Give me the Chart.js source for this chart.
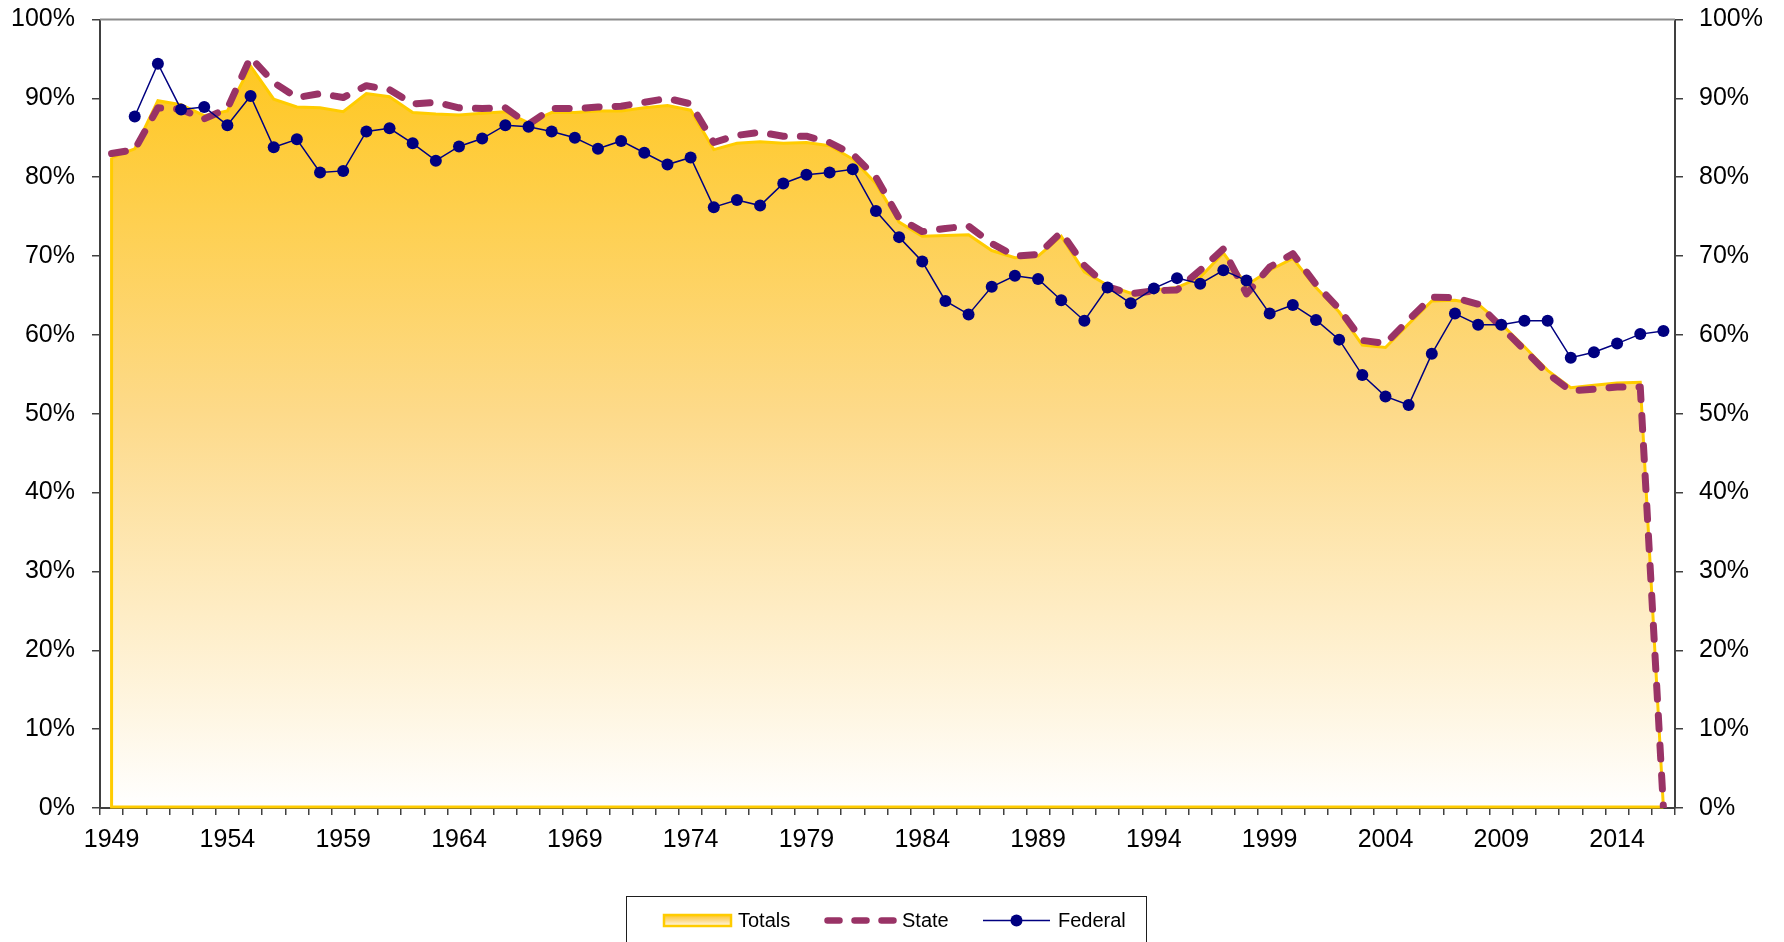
<!DOCTYPE html>
<html>
<head>
<meta charset="utf-8">
<script src="https://cdn.jsdelivr.net/npm/chart.js@4.4.1/dist/chart.umd.min.js"></script>
<style>
    html, body { margin: 0; padding: 0; background: #fff; }
    #wrap { width: 1784px; height: 942px; position: relative; }
</style>
</head>
<body>
<div id="wrap"><canvas id="chart"></canvas></div>
<script>
// Categories (one per year)
const years = [
    1949, 1950, 1951, 1952, 1953, 1954, 1955, 1956, 1957, 1958,
    1959, 1960, 1961, 1962, 1963, 1964, 1965, 1966, 1967, 1968,
    1969, 1970, 1971, 1972, 1973, 1974, 1975, 1976, 1977, 1978,
    1979, 1980, 1981, 1982, 1983, 1984, 1985, 1986, 1987, 1988,
    1989, 1990, 1991, 1992, 1993, 1994, 1995, 1996, 1997, 1998,
    1999, 2000, 2001, 2002, 2003, 2004, 2005, 2006, 2007, 2008,
    2009, 2010, 2011, 2012, 2013, 2014, 2015, 2016,
];

// Series values, in percent
const totals = [
    82.5, 83.6, 89.7, 89.2, 87.8, 88.4, 94.1, 89.9, 88.9, 88.8,
    88.3, 90.6, 90.2, 88.2, 88.0, 87.9, 88.1, 88.3, 86.9, 88.2,
    88.2, 88.4, 88.4, 88.8, 89.1, 88.5, 83.5, 84.3, 84.5, 84.3,
    84.4, 84.0, 82.3, 79.2, 74.3, 72.5, 72.6, 72.7, 70.7, 69.8,
    70.0, 72.5, 68.0, 66.3, 65.3, 65.7, 66.0, 67.3, 70.4, 66.3,
    68.2, 69.7, 66.0, 62.9, 58.7, 58.4, 61.4, 64.3, 64.4, 63.9,
    61.4, 58.5, 55.5, 53.3, 53.6, 53.9, 54.0, 0,
];

const state = [
    83.0, 83.5, 88.8, 88.6, 87.4, 88.7, 95.2, 92.0, 90.1, 90.6,
    90.1, 91.6, 91.1, 89.3, 89.5, 88.8, 88.7, 88.8, 86.7, 88.7,
    88.7, 88.9, 89.0, 89.5, 90.0, 89.3, 84.4, 85.3, 85.7, 85.2,
    85.2, 84.4, 82.9, 80.0, 74.8, 73.1, 73.5, 73.8, 71.6, 70.0,
    70.2, 73.0, 68.8, 66.1, 65.2, 65.6, 65.7, 68.2, 70.9, 65.2,
    68.6, 70.3, 66.4, 63.3, 59.3, 58.9, 61.9, 64.8, 64.7, 63.9,
    61.0, 58.1, 55.1, 52.9, 53.1, 53.4, 53.4, 0,
];

const federal = [
    null, 87.7, 94.4, 88.6, 88.9, 86.6, 90.3, 83.8, 84.8, 80.6,
    80.8, 85.8, 86.2, 84.3, 82.1, 83.9, 84.9, 86.6, 86.4, 85.8,
    85.0, 83.6, 84.6, 83.1, 81.6, 82.5, 76.2, 77.1, 76.4, 79.2,
    80.3, 80.6, 81.0, 75.7, 72.4, 69.3, 64.3, 62.6, 66.1, 67.5,
    67.1, 64.4, 61.8, 66.0, 64.0, 65.9, 67.2, 66.5, 68.2, 66.9,
    62.7, 63.8, 61.9, 59.4, 54.9, 52.2, 51.1, 57.6, 62.7, 61.3,
    61.3, 61.8, 61.8, 57.1, 57.8, 58.9, 60.1, 60.5,
];

const FONT = '"Liberation Sans", Arial, sans-serif';
const GOLD = '#FFCC00';
const PLUM = '#993366';
const NAVY = '#000080';
const AXIS = '#404040';

function areaGradient(ctx, top, bottom) {
    const g = ctx.createLinearGradient(0, top, 0, bottom);
    g.addColorStop(0, '#FFC514');
    g.addColorStop(0.5, '#FDDA8A');
    g.addColorStop(1, '#FFFFFF');
    return g;
}

// Closes the Totals outline like the original area chart (left edge + baseline)
const areaEdges = {
    id: 'areaEdges',
    afterDatasetDraw(chart, args) {
        if (args.index !== 0) return;
        const pts = args.meta.data;
        const y0 = chart.scales.y.getPixelForValue(0) - 1;
        const first = pts[0];
        const last = pts[pts.length - 1];
        const c = chart.ctx;
        c.save();
        c.strokeStyle = GOLD;
        c.lineWidth = 3;
        c.beginPath();
        c.moveTo(first.x, first.y);
        c.lineTo(first.x, y0);
        c.lineTo(last.x, y0);
        c.stroke();
        c.restore();
    }
};

// Grey frame line along the top of the plot
const topFrame = {
    id: 'topFrame',
    beforeDatasetsDraw(chart) {
        const { ctx, chartArea } = chart;
        ctx.save();
        ctx.strokeStyle = '#8c8c8c';
        ctx.lineWidth = 2;
        ctx.beginPath();
        ctx.moveTo(chartArea.left, chartArea.top);
        ctx.lineTo(chartArea.right, chartArea.top);
        ctx.stroke();
        ctx.restore();
    }
};

// Boxed legend under the axis
const boxLegend = {
    id: 'boxLegend',
    afterDraw(chart) {
        const c = chart.ctx;
        const cy = 920.5;
        c.save();
        c.fillStyle = '#fff';
        c.fillRect(626.5, 896.5, 520, 60);
        c.strokeStyle = '#1e1e1e';
        c.lineWidth = 1;
        c.strokeRect(626.5, 896.5, 520, 60);

        c.font = '20px ' + FONT;
        c.textBaseline = 'alphabetic';
        c.textAlign = 'left';

        // Totals
        c.fillStyle = areaGradient(c, 914, 927);
        c.fillRect(664, 915, 67, 11);
        c.strokeStyle = GOLD;
        c.lineWidth = 2.5;
        c.strokeRect(664, 915, 67, 11);
        c.fillStyle = '#000';
        c.fillText('Totals', 738, 927);

        // State
        c.strokeStyle = PLUM;
        c.lineWidth = 6.5;
        c.lineCap = 'round';
        c.setLineDash([12, 15]);
        c.beginPath();
        c.moveTo(827.5, cy);
        c.lineTo(893.5, cy);
        c.stroke();
        c.setLineDash([]);
        c.lineCap = 'butt';
        c.fillText('State', 902, 927);

        // Federal
        c.strokeStyle = NAVY;
        c.lineWidth = 1.5;
        c.beginPath();
        c.moveTo(983, cy);
        c.lineTo(1050, cy);
        c.stroke();
        c.fillStyle = NAVY;
        c.beginPath();
        c.arc(1016.5, cy, 6, 0, Math.PI * 2);
        c.fill();
        c.fillStyle = '#000';
        c.fillText('Federal', 1058, 927);
        c.restore();
    }
};

function percentAxis(position, width) {
    return {
        type: 'linear',
        position,
        min: 0,
        max: 100,
        afterFit: (scale) => {
            scale.width = width;
            // let the top label hang over the layout padding
            scale.paddingTop = 0;
            scale.paddingBottom = 0;
        },
        ticks: {
            stepSize: 10,
            color: '#000',
            font: { family: FONT, size: 25 },
            padding: position === 'left' ? 17 : 16,
            callback: (v) => v + '%',
        },
        grid: {
            drawOnChartArea: false,
            drawTicks: true,
            tickLength: 8,
            color: AXIS,
            lineWidth: 1.5,
        },
        border: { display: true, color: AXIS, width: 2 },
    };
}

new Chart(document.getElementById('chart'), {
    type: 'line',
    data: {
        labels: years,
        datasets: [
            {
                label: 'Totals',
                data: totals,
                order: 3,
                fill: 'origin',
                borderColor: GOLD,
                borderWidth: 3,
                pointRadius: 0,
                tension: 0,
                backgroundColor: (ctx) => {
                    const area = ctx.chart.chartArea;
                    if (!area) return 'rgba(255,204,0,0.5)';
                    return areaGradient(ctx.chart.ctx, area.top, area.bottom);
                },
            },
            {
                label: 'State',
                data: state,
                order: 2,
                fill: false,
                borderColor: PLUM,
                borderWidth: 7,
                borderDash: [14, 16],
                borderCapStyle: 'round',
                borderJoinStyle: 'round',
                pointRadius: 0,
                tension: 0,
            },
            {
                label: 'Federal',
                data: federal,
                order: 1,
                fill: false,
                borderColor: NAVY,
                borderWidth: 1.5,
                pointRadius: 6,
                pointBackgroundColor: NAVY,
                pointBorderWidth: 0,
                tension: 0,
            },
        ],
    },
    options: {
        responsive: true,
        maintainAspectRatio: false,
        animation: false,
        layout: { padding: { top: 19.5, left: 0, right: 0, bottom: 0 } },
        plugins: {
            legend: { display: false },
            tooltip: { enabled: false },
        },
        scales: {
            x: {
                type: 'category',
                offset: true,
                afterFit: (scale) => { scale.height = 134; },
                ticks: {
                    autoSkip: false,
                    maxRotation: 0,
                    color: '#000',
                    font: { family: FONT, size: 25 },
                    padding: 10,
                    callback: function (value, index) {
                        const yr = years[index];
                        return (yr - 1949) % 5 === 0 ? String(yr) : '';
                    },
                },
                grid: {
                    offset: true,
                    drawOnChartArea: false,
                    drawTicks: true,
                    tickLength: 7,
                    color: AXIS,
                    lineWidth: 1.5,
                },
                border: { display: true, color: AXIS, width: 2 },
            },
            y: percentAxis('left', 100),
            y2: percentAxis('right', 109),
        },
    },
    plugins: [areaEdges, topFrame, boxLegend],
});
</script>
</body>
</html>
